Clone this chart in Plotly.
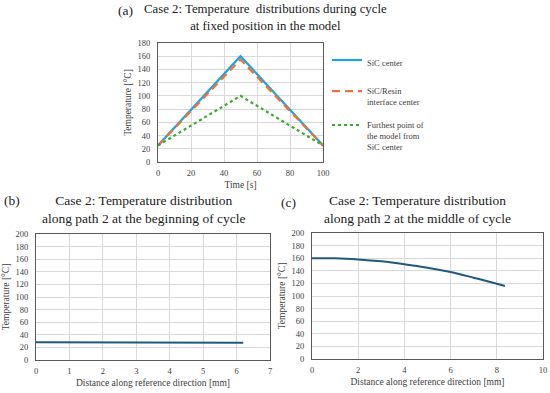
import plotly.graph_objects as go

# ---- data ----
time_s = [0, 50, 100]
sic_center = [25, 160, 25]
sic_resin = [25, 155, 25]
furthest = [25, 100, 25]

dist_b = [0, 1, 2, 3, 4, 5, 6, 6.2]
temp_b = [28, 28, 28, 27.8, 27.7, 27.6, 27.5, 27.5]

dist_c = [0, 1, 2, 3, 4, 5, 6, 7, 8, 8.35]
temp_c = [160, 159.8, 158, 155, 150.5, 145, 138, 129, 119.5, 116]

W, H = 550, 393
FONT = "Liberation Serif, Times New Roman, serif"
GRID = "#D9D9D9"
BORDER = "#595959"
NAVY = "#1F5A7E"
TXT = "#404040"

def px(x):
    return x / W

def py(y):
    return 1 - y / H

fig = go.Figure()

fig.add_trace(go.Scatter(x=time_s, y=sic_center, mode="lines", name="SiC center",
                         line=dict(color="#21A3DC", width=2.2), xaxis="x", yaxis="y",
                         legend="legend"))
fig.add_trace(go.Scatter(x=time_s, y=sic_resin, mode="lines", name="SiC/Resin<br>interface center",
                         line=dict(color="#EE7138", width=2.2, dash="8px,5px"), xaxis="x", yaxis="y",
                         legend="legend2"))
fig.add_trace(go.Scatter(x=time_s, y=furthest, mode="lines",
                         name="Furthest point of<br>the model from<br>SiC center",
                         line=dict(color="#3DAA2E", width=2.2, dash="dot"), xaxis="x", yaxis="y",
                         legend="legend3"))
fig.add_trace(go.Scatter(x=dist_b, y=temp_b, mode="lines", showlegend=False,
                         line=dict(color=NAVY, width=2), xaxis="x2", yaxis="y2"))
fig.add_trace(go.Scatter(x=dist_c, y=temp_c, mode="lines", showlegend=False,
                         line=dict(color=NAVY, width=2, shape="spline"), xaxis="x3", yaxis="y3"))

def xax(domain, rng, dtick, title, anchor, standoff):
    return dict(domain=domain, range=rng, dtick=dtick, tick0=0, showgrid=True, gridcolor=GRID,
                gridwidth=1, showline=True, linecolor=BORDER, linewidth=1.2, mirror=True,
                zeroline=False, ticks="", tickfont=dict(size=8.5, color=TXT, family=FONT),
                title=dict(text=title, font=dict(size=9.5, color=TXT, family=FONT), standoff=standoff),
                anchor=anchor, fixedrange=True, automargin=False, ticklabelstandoff=3)

def yax(domain, rng, dtick, anchor, standoff):
    return dict(domain=domain, range=rng, dtick=dtick, tick0=0, showgrid=True, gridcolor=GRID,
                gridwidth=1, showline=True, linecolor=BORDER, linewidth=1.2, mirror=True,
                zeroline=False, ticks="", tickfont=dict(size=8.5, color=TXT, family=FONT),
                title=dict(text="Temperature [\u00b0C]", font=dict(size=9.5, color=TXT, family=FONT),
                           standoff=standoff),
                anchor=anchor, fixedrange=True, ticklabelstandoff=5, automargin=False)

def leg(ytop):
    return dict(x=px(327), y=py(ytop), xanchor="left", yanchor="top", valign="top",
                font=dict(size=8.5, color=TXT, family=FONT), bgcolor="rgba(0,0,0,0)")

fig.update_layout(
    width=W, height=H,
    margin=dict(l=0, r=0, t=0, b=0, autoexpand=False),
    paper_bgcolor="white", plot_bgcolor="white",
    font=dict(family=FONT, color=TXT),
    xaxis=xax([px(158), px(323)], [0, 100], 20, "Time [s]", "y", 4),
    yaxis=yax([py(162), py(43)], [0, 180], 20, "x", 4),
    xaxis2=xax([px(36), px(270)], [0, 7], 1, "Distance along reference direction [mm]", "y2", 4),
    yaxis2=yax([py(360), py(234)], [0, 200], 20, "x2", 4),
    xaxis3=xax([px(312), px(543)], [0, 10], 2, "Distance along reference direction [mm]", "y3", 4),
    yaxis3=yax([py(359), py(233)], [0, 200], 20, "x3", 4),
    legend=leg(48),
    legend2=leg(79),
    legend3=leg(113),
)

TF = dict(family=FONT, size=13.5, color="#222222")
ann = [
    dict(x=px(265), y=py(18), text="Case 2: Temperature\u00a0 distributions during cycle<br>at fixed position in the model",
         font=dict(family=FONT, size=12.8, color="#222222")),
    dict(x=px(125), y=py(10), text="(a)", font=TF),
    dict(x=px(144), y=py(209), text="Case 2: Temperature distribution<br>along path 2 at the beginning of cycle", font=TF),
    dict(x=px(12), y=py(201), text="(b)", font=TF),
    dict(x=px(417), y=py(209), text="Case 2: Temperature distribution<br>along path 2 at the middle of cycle", font=TF),
    dict(x=px(288), y=py(202), text="(c)", font=TF),
]
fig.update_layout(annotations=[dict(xref="paper", yref="paper", showarrow=False,
                                    xanchor="center", yanchor="middle", **a) for a in ann])

fig.write_html("out.html", config={"displayModeBar": False},
               post_script="document.body.style.margin='0';document.body.style.overflow='hidden';")
